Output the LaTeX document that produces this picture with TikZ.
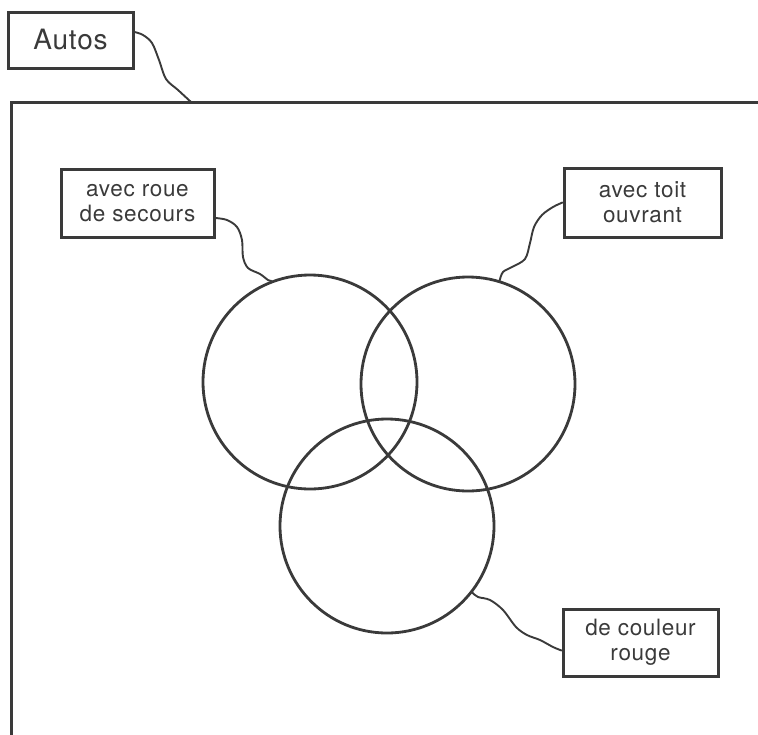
\documentclass[tikz,border=0pt]{standalone}
\usepackage{fontspec}
\setmainfont{TeX Gyre Heros}[LetterSpace=3]
\definecolor{ink}{HTML}{3A3A3A}
\begin{document}
\begin{tikzpicture}[x=1pt,y=-1pt,
  ink/.style={draw=ink,line width=3pt},
  label/.style={ink,text=ink,font=\fontsize{22.5}{25}\selectfont,align=center,inner sep=0pt},
  setring/.style={draw=ink,line width=2.8pt,circle,minimum size=214pt,inner sep=0pt},
  wire/.style={draw=ink,line width=1.9pt,line join=round,line cap=round}]
  \useasboundingbox (0,0) rectangle (758,734);
  % universe frame (only top and left edges show)
  \coordinate (ftl) at (11.5,102);
  \coordinate (ftr) at (760,102);
  \coordinate (fbl) at (11.5,736);
  \draw[ink] (ftr) -- (ftl) -- (fbl);
  \coordinate (ftap) at (191,102);
  % set labels
  \node[label,font=\fontsize{28}{30}\selectfont,minimum width=125pt,minimum height=56pt] (autos) at (70.5,40) {Autos};
  \node[label,minimum width=153pt,minimum height=68pt] (roue) at (137.5,203) {avec roue\\de secours};
  \node[label,minimum width=157pt,minimum height=69pt] (toit) at (642.5,202.5) {avec toit\\ouvrant};
  \node[label,minimum width=155pt,minimum height=67pt] (rouge) at (640.5,642.5) {de couleur\\rouge};
  % the three sets
  \node[setring] (c1) at (310,382) {};
  \node[setring] (c2) at (468,384) {};
  \node[setring] (c3) at (387,526) {};
  % wavy leaders
  \draw[wire] plot[smooth,tension=0.55] coordinates {([yshift=8pt]autos.east) (143,35) (152,43) (159,60) (166,79) (178,90) (ftap)};
  \draw[wire] plot[smooth,tension=0.55] coordinates {([yshift=-15pt]roue.east) (227,220) (237,227) (242,240) (243,257) (248,268) (260,274) (268,280) (c1.111)};
  \draw[wire] plot[smooth,tension=0.55] coordinates {(toit.west) (553,207) (542,215) (534,227) (530,243) (525,259) (512,267) (503,272) (c2.73)};
  \draw[wire] plot[smooth,tension=0.55] coordinates {(c3.-38) (478,597) (490,600) (503,610) (516,627) (527,635) (540,640) (553,647) ([yshift=-8pt]rouge.west)};
\end{tikzpicture}
\end{document}
